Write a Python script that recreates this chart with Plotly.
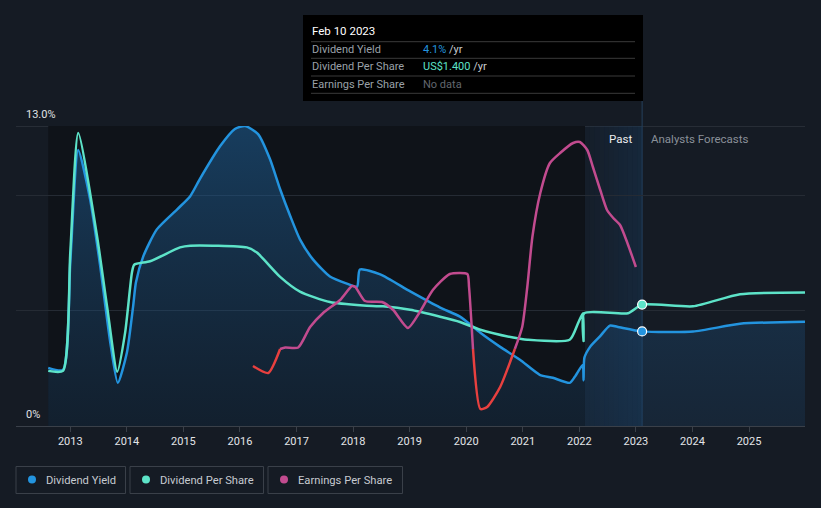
import plotly.graph_objects as go

# ---------------- data ----------------
dy_years = [2012.61, 2012.87, 2013.0, 2013.14, 2013.35, 2013.53, 2013.70, 2013.84, 2014.00, 2014.11,
            2014.16, 2014.29, 2014.53, 2014.89, 2015.12, 2015.29, 2015.65, 2015.91, 2016.09, 2016.32,
            2016.53, 2016.71, 2016.89, 2017.06, 2017.29, 2017.59, 2017.89, 2018.07, 2018.12, 2018.48,
            2019.01, 2019.54, 2019.89, 2020.25, 2020.60, 2020.95, 2021.30, 2021.53, 2021.83, 2021.92,
            2022.06, 2022.075, 2022.09, 2022.19, 2022.36, 2022.54, 2022.67, 2023.11, 2024.01, 2024.84,
            2025.99]
dy_vals = [2.52, 2.43, 7.1, 11.96, 9.83, 6.91, 3.74, 1.87, 3.17, 5.17,
           6.22, 7.35, 8.52, 9.39, 9.96, 10.70, 12.13, 12.87, 13.0, 12.65,
           11.57, 10.26, 9.09, 8.09, 7.22, 6.48, 6.17, 6.04, 6.78, 6.57,
           5.83, 5.13, 4.74, 4.04, 3.43, 2.87, 2.22, 2.09, 1.87, 2.13,
           2.65, 1.98, 2.96, 3.43, 3.87, 4.35, 4.30, 4.1, 4.09, 4.43,
           4.52]

dps_years = [2012.61, 2012.87, 2013.0, 2013.14, 2013.47, 2013.65, 2013.83, 2013.97, 2014.09,
             2014.13, 2014.41, 2014.94, 2015.12, 2016.12, 2016.30, 2016.71, 2017.06, 2017.59, 2018.18,
             2018.53, 2019.01, 2019.54, 2019.89, 2020.25, 2020.83, 2021.08, 2021.83, 2021.98, 2022.065,
             2022.075, 2022.085, 2022.86, 2023.11, 2024.01, 2024.84, 2025.99]
dps_vals = [0.636, 0.636, 2.0, 3.38, 2.20, 1.38, 0.625, 1.08, 1.77,
            1.86, 1.90, 2.06, 2.08, 2.06, 2.00, 1.72, 1.55, 1.43, 1.39,
            1.38, 1.34, 1.26, 1.20, 1.11, 1.02, 0.995, 0.995, 1.19, 1.30,
            0.98, 1.30, 1.30, 1.40, 1.38, 1.52, 1.54]

eps_years = [2016.23, 2016.50, 2016.71, 2016.80, 2017.03, 2017.24, 2017.47, 2017.77, 2017.98, 2018.04,
             2018.21, 2018.51, 2018.71, 2018.97, 2019.18, 2019.41, 2019.71, 2020.02, 2020.05, 2020.12,
             2020.25, 2020.37, 2020.60, 2020.86, 2020.99, 2021.08, 2021.17, 2021.31, 2021.48, 2021.66,
             2021.89, 2022.01, 2022.14, 2022.24, 2022.37, 2022.49, 2022.60, 2022.72, 2022.85, 2023.00]
eps_vals = [-0.34, -0.48, 0.0, 0.03, 0.03, 0.44, 0.72, 0.98, 1.26, 1.24,
            0.96, 0.94, 0.78, 0.42, 0.74, 1.18, 1.50, 1.50, 1.24, 0.0,
            -1.20, -1.16, -0.76, 0.0, 0.44, 1.24, 2.24, 3.12, 3.72, 3.92,
            4.12, 4.14, 3.98, 3.64, 3.18, 2.78, 2.62, 2.48, 2.12, 1.64]

year_ticks = [2013, 2014, 2015, 2016, 2017, 2018, 2019, 2020, 2021, 2022, 2023, 2024, 2025]
tooltip_year = 2023.11
tooltip_date = "Feb 10 2023"
tooltip_dy = "4.1%"
tooltip_dps = "US$1.400"
past_band_start = 2022.10
series_names = ["Dividend Yield", "Dividend Per Share", "Earnings Per Share"]

# ---------------- style ----------------
BG = "#151b24"
DARK = "#0f1319"
BLUE = "#2394df"
TEAL = "#5de3c8"
MAG = "#c24b8f"
RED = "#e8403f"
FONT = "Roboto"

L, R, T, B = 16, 805, 126, 426
W, H = 821, 508


def px(x):
    return (x - L) / (R - L)


def py(y):
    return (B - y) / (B - T)


fig = go.Figure()

# Dividend yield with area
fig.add_trace(go.Scatter(
    x=dy_years, y=dy_vals, mode="lines",
    line=dict(color=BLUE, width=2.5, shape="spline", smoothing=0.6),
    fill="tozeroy",
    fillgradient=dict(type="vertical", start=0, stop=13,
                      colorscale=[[0, "rgba(28,70,110,0.25)"], [1, "rgba(30,95,150,0.55)"]]),
    hoverinfo="skip", showlegend=False, yaxis="y"))

# Dividend per share
fig.add_trace(go.Scatter(
    x=dps_years, y=dps_vals, mode="lines",
    line=dict(color=TEAL, width=2.5, shape="spline", smoothing=0.6),
    hoverinfo="skip", showlegend=False, yaxis="y2"))

# Earnings per share: split by sign at zero points
segs = []
cur = [0]
for i in range(1, len(eps_vals)):
    cur.append(i)
    if eps_vals[i] == 0.0 and i != len(eps_vals) - 1:
        segs.append(cur)
        cur = [i]
segs.append(cur)
for s in segs:
    xs = [eps_years[i] for i in s]
    ys = [eps_vals[i] for i in s]
    neg = all(v <= 0 for v in ys)
    fig.add_trace(go.Scatter(
        x=xs, y=ys, mode="lines",
        line=dict(color=RED if neg else MAG, width=2.5, shape="spline", smoothing=0.6),
        hoverinfo="skip", showlegend=False, yaxis="y3"))

# markers at tooltip date
i_dy = dy_years.index(tooltip_year)
i_dps = dps_years.index(tooltip_year)
fig.add_trace(go.Scatter(x=[dy_years[i_dy]], y=[dy_vals[i_dy]], mode="markers",
                         marker=dict(size=9, color=BLUE, line=dict(color="white", width=1.2)),
                         hoverinfo="skip", showlegend=False, yaxis="y"))
fig.add_trace(go.Scatter(x=[dps_years[i_dps]], y=[dps_vals[i_dps]], mode="markers",
                         marker=dict(size=9, color=TEAL, line=dict(color="white", width=1.2)),
                         hoverinfo="skip", showlegend=False, yaxis="y2"))

shapes = []
# dark past region
shapes.append(dict(type="rect", xref="x", yref="y", x0=dy_years[0], x1=past_band_start, y0=0, y1=13,
                   fillcolor=DARK, line=dict(width=0), layer="below"))
# past band gradient
n = 12
step = (tooltip_year - past_band_start) / n
for k in range(n):
    a = 0.10 + 0.30 * k / (n - 1)
    shapes.append(dict(type="rect", xref="x", yref="y", x0=past_band_start + k * step,
                       x1=past_band_start + (k + 1) * step + 0.001, y0=0, y1=13,
                       fillcolor=f"rgba(25,60,95,{a:.3f})", line=dict(width=0), layer="below"))
# top gridline
shapes.append(dict(type="line", xref="paper", yref="y", x0=0, x1=1, y0=13, y1=13,
                   line=dict(color="#3a4049", width=1), layer="below"))
# vertical tooltip line
shapes.append(dict(type="line", xref="x", yref="paper", x0=tooltip_year, x1=tooltip_year,
                   y0=0, y1=py(101), line=dict(color="#24405c", width=1), layer="below"))
# tooltip box
shapes.append(dict(type="rect", xref="paper", yref="paper", x0=px(303), x1=px(643), y0=py(15), y1=py(101),
                   fillcolor="#000000", line=dict(width=0)))
for yy in [41.7, 58.3, 76, 93.3]:
    shapes.append(dict(type="line", xref="paper", yref="paper", x0=px(311), x1=px(635), y0=py(yy), y1=py(yy),
                       line=dict(color="#3a3a3a", width=1)))
# legend boxes
legend_boxes = [(16, 125.5), (130, 263.5), (268, 402.5)]
legend_cols = [BLUE, TEAL, MAG]
for (x0, x1), c in zip(legend_boxes, legend_cols):
    shapes.append(dict(type="rect", xref="paper", yref="paper", x0=px(x0), x1=px(x1), y0=py(466.5), y1=py(493.5),
                       line=dict(color="#3a4049", width=1), fillcolor="rgba(0,0,0,0)"))
    cx = x0 + 16
    shapes.append(dict(type="circle", xref="paper", yref="paper", x0=px(cx - 4), x1=px(cx + 4),
                       y0=py(479.5 - 4), y1=py(479.5 + 4), fillcolor=c, line=dict(width=0)))

ann = []


def text(x, y, s, color, size=11, xanchor="left"):
    ann.append(dict(xref="paper", yref="paper", x=px(x), y=py(y), text=s, showarrow=False,
                    xanchor=xanchor, yanchor="middle", font=dict(family=FONT, size=size, color=color)))


text(24, 114.5, "13.0%", "#e0e2e5")
text(23.5, 414, "0%", "#e0e2e5")
text(634, 138.5, "Past", "#eceef0", 11.5, "right")
text(649, 138.5, "Analysts Forecasts", "#8a9099", 11.5)
text(310, 30.5, tooltip_date, "#ffffff", 11.5)
text(310, 49.5, series_names[0], "#9aa0a8", 11)
text(310, 66.5, series_names[1], "#9aa0a8", 11)
text(310, 84, series_names[2], "#9aa0a8", 11)
text(421, 49.5, f'<span style="color:{BLUE}">{tooltip_dy}</span> /yr', "#c9ccd0", 11)
text(421, 66.5, f'<span style="color:{TEAL}">{tooltip_dps}</span> /yr', "#c9ccd0", 11)
text(421, 84, "No data", "#62676f", 11)
for (x0, x1), name in zip(legend_boxes, series_names):
    text(x0 + 28, 480, name, "#c6cad0", 11.2)

fig.update_layout(
    width=W, height=H, autosize=False,
    margin=dict(l=L, r=W - R, t=T, b=H - B, pad=0),
    paper_bgcolor=BG, plot_bgcolor=BG,
    showlegend=False,
    shapes=shapes, annotations=ann,
    font=dict(family=FONT, color="#e0e2e5"),
    xaxis=dict(range=[2012.04, 2025.99], tickvals=year_ticks, ticktext=[str(y) for y in year_ticks],
               showgrid=False, zeroline=False, showline=True, linecolor="#3a4049", linewidth=1,
               ticks="outside", ticklen=5, tickcolor="#3a4049", tickwidth=1,
               tickfont=dict(family=FONT, size=11, color="#e3e5e8"), fixedrange=True),
    yaxis=dict(range=[0, 13], tickvals=[5, 10], showticklabels=False, gridcolor="#252b34",
               zeroline=False, showline=False, fixedrange=True),
    yaxis2=dict(range=[0, 3.46], overlaying="y", visible=False, fixedrange=True),
    yaxis3=dict(range=[-1.54, 4.46], overlaying="y", visible=False, fixedrange=True),
)

fig.write_html("out.html")
